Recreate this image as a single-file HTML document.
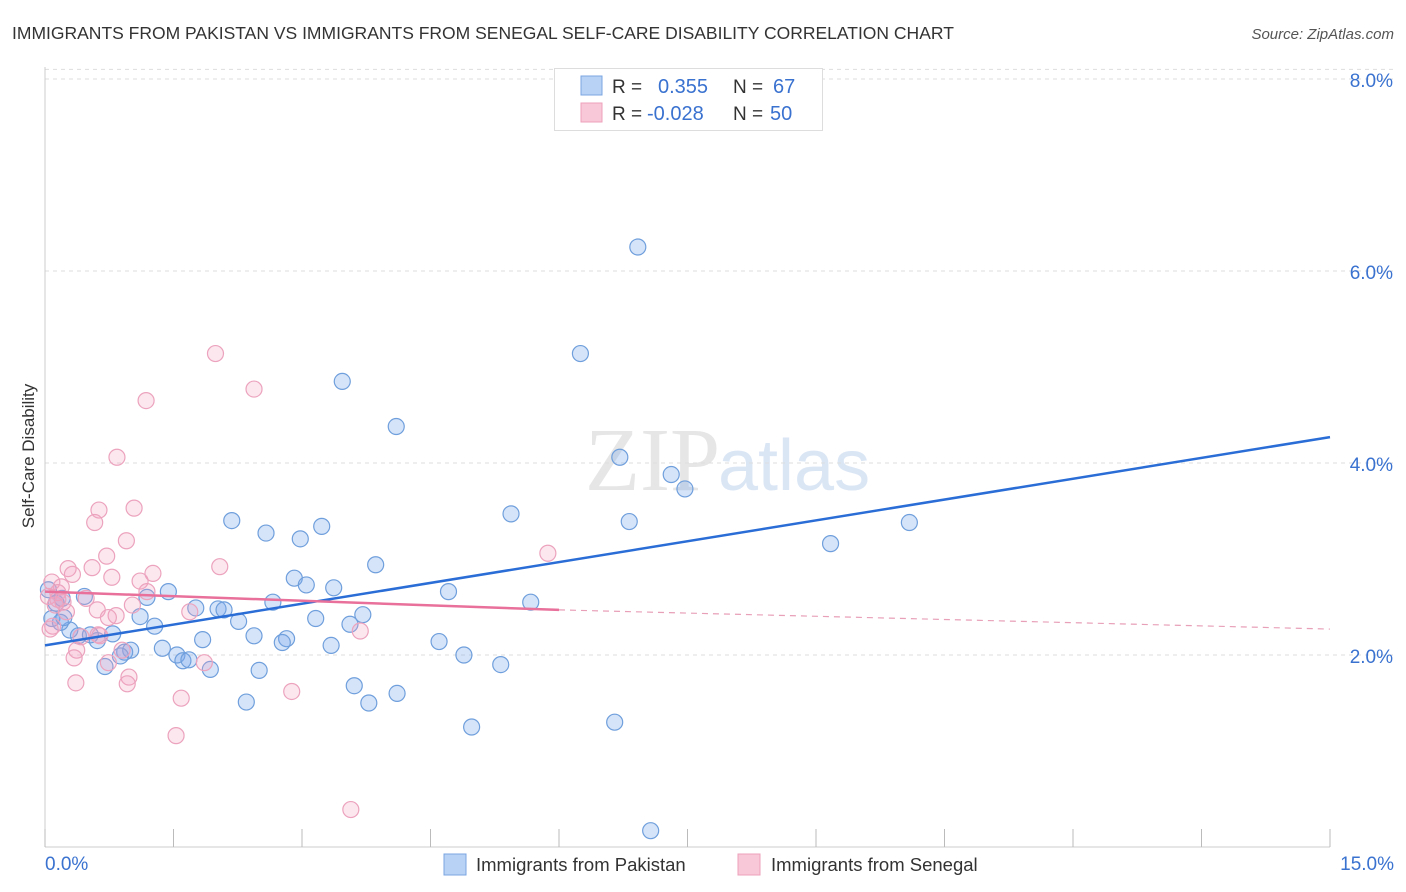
<!DOCTYPE html>
<html><head><meta charset="utf-8"><style>
body{margin:0;background:#fff;font-family:"Liberation Sans",sans-serif;}
svg{display:block}
</style></head><body>
<svg id="c" width="1406" height="892">
<text x="12" y="39" font-size="17.5" fill="#333">IMMIGRANTS FROM PAKISTAN VS IMMIGRANTS FROM SENEGAL SELF-CARE DISABILITY CORRELATION CHART</text>
<text x="1394" y="39" font-size="15" fill="#555" font-style="italic" text-anchor="end">Source: ZipAtlas.com</text>
<text x="34" y="456" font-size="17" fill="#333" text-anchor="middle" transform="rotate(-90 34 456)">Self-Care Disability</text>
<text x="720" y="490" font-size="90" fill="#e6e6e6" text-anchor="end" font-family="Liberation Serif">ZIP</text>
<text x="718" y="490" font-size="72" fill="#dbe6f5">atlas</text>
<g id="grid"></g><g id="pts"></g><g id="lines"></g>
<g>
<rect x="554.5" y="68.5" width="268" height="62" fill="#fff" stroke="#ddd"/>
<rect x="581" y="76" width="21" height="19" fill="#b8d2f5" stroke="#7aa6e0"/>
<rect x="581" y="103" width="21" height="19" fill="#f9c8d8" stroke="#eda0ba"/>
<text x="612" y="93" font-size="19" fill="#333">R = </text><text x="658" y="93" font-size="20" fill="#3a72d0">0.355</text>
<text x="733" y="93" font-size="19" fill="#333">N = </text><text x="773" y="93" font-size="20" fill="#3a72d0">67</text>
<text x="612" y="120" font-size="19" fill="#333">R = </text><text x="647" y="120" font-size="20" fill="#3a72d0">-0.028</text>
<text x="733" y="120" font-size="19" fill="#333">N = </text><text x="770" y="120" font-size="20" fill="#3a72d0">50</text>
</g>
<g>
<rect x="444" y="854" width="22" height="21" fill="#b8d2f5" stroke="#7aa6e0"/>
<text x="476" y="871" font-size="18.5" fill="#333">Immigrants from Pakistan</text>
<rect x="738" y="854" width="22" height="21" fill="#f9c8d8" stroke="#eda0ba"/>
<text x="771" y="871" font-size="18.5" fill="#333">Immigrants from Senegal</text>
</g>
</svg>
<script>
const xTicks=[0,1.5,3,4.5,6,7.5,9,10.5,12,13.5,15];
const yTicks=[2,4,6,8];
const yTickLabels=["2.0%","4.0%","6.0%","8.0%"];
const xEndLabels=["0.0%","15.0%"];
const pakX=[6.92,6.25,3.47,4.1,6.71,7.31,7.47,5.44,6.82,10.09,2.18,2.58,3.23,2.98,9.17,3.86,2.91,3.05,3.37,4.71,1.44,1.19,2.66,1.76,2.02,2.09,5.67,3.71,3.16,3.56,2.26,1.28,1.11,1.84,2.44,2.82,2.77,3.34,4.6,0.79,0.61,0.39,0.53,0.29,0.18,0.08,0.2,0.13,0.22,0.46,1.37,1.0,0.93,0.88,1.54,1.61,1.68,1.93,0.7,4.89,5.32,2.5,3.61,4.11,2.35,3.78,4.98,6.65,7.07,0.04];
const pakY=[6.25,5.14,4.85,4.38,4.06,3.88,3.73,3.47,3.39,3.38,3.4,3.27,3.34,3.21,3.16,2.94,2.8,2.73,2.7,2.66,2.66,2.6,2.55,2.49,2.48,2.47,2.55,2.42,2.38,2.32,2.35,2.3,2.4,2.16,2.2,2.17,2.13,2.1,2.14,2.22,2.15,2.2,2.21,2.26,2.34,2.38,2.59,2.54,2.39,2.61,2.07,2.05,2.03,1.99,2.0,1.94,1.95,1.85,1.88,2.0,1.9,1.84,1.68,1.6,1.51,1.5,1.25,1.3,0.17,2.68];
const senX=[1.99,2.44,1.18,0.84,0.63,1.04,0.58,0.95,0.72,5.87,0.27,0.55,2.04,1.26,0.32,0.78,0.08,1.11,1.19,0.19,0.04,0.15,0.48,0.12,0.21,1.02,0.61,0.83,0.74,1.69,0.42,0.62,0.09,0.06,3.68,0.37,0.34,0.9,1.86,0.74,0.98,0.36,0.96,2.88,1.59,1.53,3.57,0.15,0.25,0.64];
const senY=[5.14,4.77,4.65,4.06,3.51,3.53,3.38,3.19,3.03,3.06,2.9,2.91,2.92,2.85,2.84,2.81,2.76,2.77,2.66,2.71,2.61,2.65,2.59,2.52,2.55,2.52,2.47,2.41,2.39,2.45,2.19,2.21,2.3,2.27,2.25,2.05,1.97,2.05,1.92,1.92,1.77,1.71,1.7,1.62,1.55,1.16,0.39,2.58,2.45,2.2];
const pakFit=[2.1,4.27];
const senFit=[2.66,2.47,2.27];
const X=v=>45+v/15*1285, Y=v=>847-v*96, NS="http://www.w3.org/2000/svg";
const mk=(p,t,a)=>{const e=document.createElementNS(NS,t);for(const k in a)e.setAttribute(k,a[k]);p.appendChild(e);return e;};
const grid=document.getElementById('grid'),pts=document.getElementById('pts'),lines=document.getElementById('lines'),svg=document.getElementById('c');
yTicks.forEach((t,i)=>{
 const l=mk(grid,'line',{x1:45,x2:1394,y1:Y(t),y2:Y(t),stroke:'#ddd','stroke-dasharray':'4,4'});
 
 
 const tx=mk(grid,'text',{x:1393,y:Y(t)+8,'font-size':19,fill:'#3a72d0','text-anchor':'end'});tx.textContent=yTickLabels[i];
 
 
});
const tl=mk(grid,'line',{x1:45,x2:1394,y1:Y(8.1),y2:Y(8.1),stroke:'#ddd','stroke-dasharray':'4,4'});


const ax=mk(grid,'line',{x1:45,x2:45,y1:67,y2:847,stroke:'#ccc'});


const bx=mk(grid,'line',{x1:45,x2:1330,y1:847,y2:847,stroke:'#ccc'});


xTicks.forEach(t=>{const e=mk(grid,'line',{x1:X(t),x2:X(t),y1:829,y2:847,stroke:'#bbb'});
 
 });
[[0,'start',45],[15,'end',1394]].forEach((d,i)=>{const e=mk(grid,'text',{x:d[2],y:870,'font-size':19,fill:'#3a72d0','text-anchor':d[1]});e.textContent=xEndLabels[i];
 
 });
pakX.forEach((v,i)=>{const c=mk(pts,'circle',{cx:X(v),cy:Y(pakY[i]),r:8,fill:'rgba(120,165,235,0.3)',stroke:'#6f9fdc','stroke-width':1.2});
 
 });
senX.forEach((v,i)=>{const c=mk(pts,'circle',{cx:X(v),cy:Y(senY[i]),r:8,fill:'rgba(245,160,190,0.25)',stroke:'#eca3bd','stroke-width':1.2});
 
 });
const bl=mk(lines,'line',{x1:X(0),y1:Y(pakFit[0]),x2:X(15),y2:Y(pakFit[1]),stroke:'#2a6dd6','stroke-width':2.5});


const sl=mk(lines,'line',{x1:X(0),y1:Y(senFit[0]),x2:X(6),y2:Y(senFit[1]),stroke:'#e8709a','stroke-width':2.5});


const sd=mk(lines,'line',{x1:X(6),y1:Y(senFit[1]),x2:X(15),y2:Y(senFit[2]),stroke:'#e8a0b8','stroke-width':1.2,'stroke-dasharray':'6,5'});


</script>
</body></html>
